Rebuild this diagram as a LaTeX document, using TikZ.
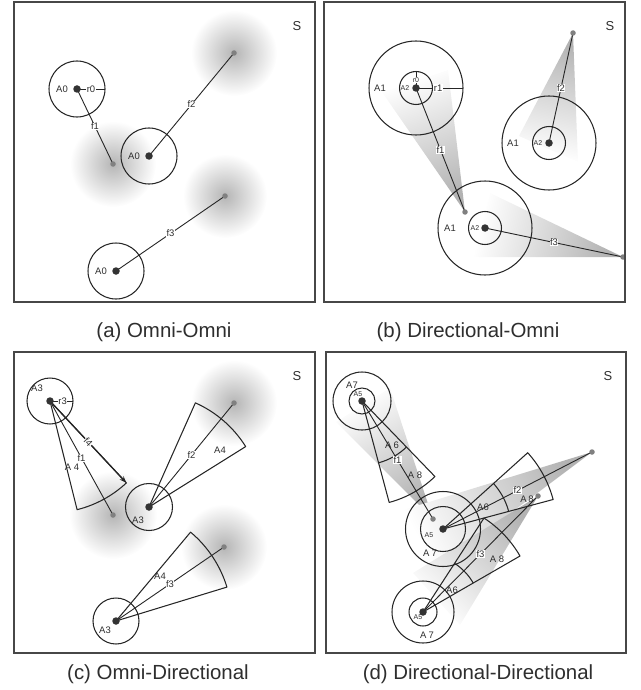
\documentclass[tikz,border=0pt]{standalone}
\usepackage{fontspec}
\setmainfont{Liberation Sans}
\usetikzlibrary{arrows.meta}
\definecolor{ink}{HTML}{262626}
\definecolor{txt}{HTML}{2E2E2E}
\begin{document}
\begin{tikzpicture}[x=1bp,y=-1bp,
  frame/.style={draw=black!72, line width=1.1bp},
  ring/.style={draw=ink, line width=1.05bp},
  link/.style={draw=ink, line width=0.9bp},
  sector/.style={draw=ink, line width=1.05bp, line join=round},
  lbl/.style={font=\fontsize{9.5}{10}\selectfont, inner sep=0.5bp, text=txt},
  wlbl/.style={lbl, fill=white},
  slbl/.style={font=\fontsize{7}{7}\selectfont, inner sep=0.3bp, text=txt},
  slabel/.style={font=\fontsize{13}{13}\selectfont, text=txt},
  captxt/.style={font=\fontsize{20.5}{22}\selectfont, text=txt},
  tx/.style={circle, fill=black!80, inner sep=0, minimum size=7.5bp},
  rx/.style={circle, fill=black!50, inner sep=0, minimum size=5.5bp},
  blob/.style={inner color=black!29, outer color=white},
  beam/.style={top color=black!30, bottom color=white}
]
\useasboundingbox (0,0) rectangle (641,690);

% ---------------- (a) Omni-Omni ----------------
\coordinate (aT1) at (77,89);
\coordinate (aT2) at (149,156);
\coordinate (aT3) at (116,271);
\coordinate (aR1) at (113,164);
\coordinate (aR2) at (234,53);
\coordinate (aR3) at (225,196);
\coordinate (aE) at (105,89);
\shade[blob] (aR1) circle[radius=43bp];
\shade[blob] (aR2) circle[radius=43bp];
\shade[blob] (aR3) circle[radius=42bp];
\draw[ring] (aT1) circle[radius=28bp];
\draw[ring] (aT2) circle[radius=28bp];
\draw[ring] (aT3) circle[radius=28bp];
\draw[link] (aT1) -- node[wlbl] (ar0) {r0} (aE);
\draw[link] (aT1) -- node[wlbl] (af1) {f1} (aR1);
\draw[link] (aT2) -- node[wlbl] (af2) {f2} (aR2);
\draw[link] (aT3) -- node[wlbl] (af3) {f3} (aR3);
\node[tx] (aT1d) at (aT1) {};
\node[tx] (aT2d) at (aT2) {};
\node[tx] (aT3d) at (aT3) {};
\node[rx] (aR1d) at (aR1) {};
\node[rx] (aR2d) at (aR2) {};
\node[rx] (aR3d) at (aR3) {};
\node[lbl] (aA1) at (62,89) {A0};
\node[lbl] (aA2) at (134,156) {A0};
\node[lbl] (aA3) at (101,271) {A0};
\node[slabel] (aS) at (297,26) {S};
\draw[frame] (14,2) rectangle (315,302);
\node[captxt] (acap) at (164,332) {(a) Omni-Omni};

% ---------------- (b) Directional-Omni ----------------
\coordinate (bT1) at (416,88);
\coordinate (bT2) at (549,143);
\coordinate (bT3) at (485,228);
\coordinate (bR1) at (465,212);
\coordinate (bR2) at (573,33);
\coordinate (bR3) at (623,257);
\coordinate (bE0) at (416,71.5);
\coordinate (bE1) at (463,88);
\shade[beam, shading angle=-159] (bR1) -- (382,92) -- (448,70) -- cycle;
\shade[beam, shading angle=-12] (bR2) -- (519,136) -- (578,162) -- cycle;
\shade[beam, shading angle=-103] (bR3) -- (490,193) -- (473,257) -- cycle;
\foreach \c in {bT1,bT2,bT3} {
  \draw[ring] (\c) circle[radius=47bp];
  \draw[ring] (\c) circle[radius=16.5bp];
}
\draw[link] (bT1) -- node[slbl, fill=white] (br0) {r0} (bE0);
\draw[link] (bT1) -- node[wlbl, pos=0.47] (br1) {r1} (bE1);
\draw[link] (bT1) -- node[wlbl] (bf1) {f1} (bR1);
\draw[link] (bT2) -- node[wlbl] (bf2) {f2} (bR2);
\draw[link] (bT3) -- node[wlbl] (bf3) {f3} (bR3);
\node[tx] (bT1d) at (bT1) {};
\node[tx] (bT2d) at (bT2) {};
\node[tx] (bT3d) at (bT3) {};
\node[rx] (bR1d) at (bR1) {};
\node[rx] (bR2d) at (bR2) {};
\node[rx] (bR3d) at (bR3) {};
\node[lbl] (bA11) at (380,88) {A1};
\node[slbl] (bA21) at (405,88) {A2};
\node[lbl] (bA12) at (513,143) {A1};
\node[slbl] (bA22) at (538,143) {A2};
\node[lbl] (bA13) at (450,228) {A1};
\node[slbl] (bA23) at (475,228) {A2};
\node[slabel] (bS) at (610,26) {S};
\draw[frame] (324,2) rectangle (625,302);
\node[captxt] (bcap) at (468,332) {(b) Directional-Omni};

% ---------------- (c) Omni-Directional ----------------
\coordinate (cT1) at (50,401);
\coordinate (cT2) at (149,507);
\coordinate (cT3) at (116,621);
\coordinate (cR1) at (113,515);
\coordinate (cR2) at (234,403);
\coordinate (cR3) at (224,547);
\coordinate (cE) at (73,401);
\coordinate (cF4) at (126.4,482.9);
\shade[blob] (cR1) circle[radius=44bp];
\shade[blob] (cR2) circle[radius=43bp];
\shade[blob] (cR3) circle[radius=43bp];
\draw[ring] (cT1) circle[radius=23bp];
\draw[ring] (cT2) circle[radius=23.5bp];
\draw[ring] (cT3) circle[radius=23bp];
\draw[sector] (cT1) -- ++(-76:112bp) arc[start angle=-76, end angle=-47, radius=112bp] -- cycle;
\draw[sector] (cT2) -- ++(66:114bp) arc[start angle=66, end angle=32, radius=114bp] -- cycle;
\draw[sector] (cT3) -- ++(50:116bp) arc[start angle=50, end angle=17, radius=116bp] -- cycle;
\draw[link] (cT1) -- node[wlbl, pos=0.55] (cr3) {r3} (cE);
\draw[link] (cT1) -- node[wlbl] (cf1) {f1} (cR1);
\draw[link] (cT2) -- node[wlbl] (cf2) {f2} (cR2);
\draw[link] (cT3) -- node[wlbl] (cf3) {f3} (cR3);
\draw[ink, line width=1.3bp, -{Stealth[length=7bp, width=5bp]}] (cT1) -- node[lbl, fill=white, sloped] (cf4) {f4} (cF4);
\node[tx] (cT1d) at (cT1) {};
\node[tx] (cT2d) at (cT2) {};
\node[tx] (cT3d) at (cT3) {};
\node[rx] (cR1d) at (cR1) {};
\node[rx] (cR2d) at (cR2) {};
\node[rx] (cR3d) at (cR3) {};
\node[lbl] (cA31) at (37,388) {A3};
\node[lbl] (cA32) at (138,520) {A3};
\node[lbl] (cA33) at (105,630) {A3};
\node[lbl] (cA41) at (72,467) {A\hspace{2.5bp}4};
\node[lbl] (cA42) at (220,450) {A4};
\node[lbl] (cA43) at (160,576) {A4};
\node[slabel] (cS) at (297,376) {S};
\draw[frame] (14,352) rectangle (315,653);
\node[captxt] (ccap) at (158,674) {(c) Omni-Directional};

% ---------------- (d) Directional-Directional ----------------
\coordinate (dT1) at (362,401);
\coordinate (dT2) at (443,529);
\coordinate (dT3) at (423,612);
\coordinate (dR1) at (433,519);
\coordinate (dR2) at (592,452);
\coordinate (dR3) at (538,496);
\shade[beam, shading angle=-148] (dR1) -- (336,422) -- (390,388) -- cycle;
\shade[beam, shading angle=-63] (dR2) -- (403,510) -- (432,572) -- cycle;
\shade[beam, shading angle=-45] (dR3) -- (413,573) -- (460,625) -- cycle;
\draw[ring] (dT1) circle[radius=29bp];
\draw[ring] (dT1) circle[radius=13bp];
\draw[ring] (dT2) circle[radius=37.5bp];
\draw[ring] (dT2) circle[radius=22.5bp];
\draw[ring] (dT3) circle[radius=31bp];
\draw[ring] (dT3) circle[radius=14bp];
\draw[sector] (dT1) -- ++(-75:105bp) arc[start angle=-75, end angle=-46, radius=105bp] -- cycle;
\draw[sector] (dT1) ++(-75:64bp) arc[start angle=-75, end angle=-46, radius=64bp];
\draw[sector] (dT2) -- ++(42:114bp) arc[start angle=42, end angle=15, radius=114bp] -- cycle;
\draw[sector] (dT2) ++(42:68bp) arc[start angle=42, end angle=15, radius=68bp];
\draw[sector] (dT3) -- ++(57:112bp) arc[start angle=57, end angle=30, radius=112bp] -- cycle;
\draw[sector] (dT3) ++(57:58bp) arc[start angle=57, end angle=30, radius=58bp];
\draw[link] (dT1) -- node[wlbl] (df1) {f1} (dR1);
\draw[link] (dT2) -- node[wlbl] (df2) {f2} (dR2);
\draw[link] (dT3) -- node[wlbl] (df3) {f3} (dR3);
\node[tx] (dT1d) at (dT1) {};
\node[tx] (dT2d) at (dT2) {};
\node[tx] (dT3d) at (dT3) {};
\node[rx] (dR1d) at (dR1) {};
\node[rx] (dR2d) at (dR2) {};
\node[rx] (dR3d) at (dR3) {};
\node[lbl] (dA71) at (352,385) {A7};
\node[slbl] (dA51) at (358,394) {A5};
\node[lbl] (dA61) at (392,445) {A\hspace{2bp}6};
\node[lbl] (dA81) at (415,475) {A\hspace{2.5bp}8};
\node[lbl] (dA62) at (483,507) {A6};
\node[lbl] (dA82) at (527,499) {A\hspace{1.5bp}8};
\node[slbl] (dA52) at (429,535) {A5};
\node[lbl] (dA72) at (430,553) {A\hspace{2bp}7};
\node[lbl] (dA63) at (452,590) {A6};
\node[lbl] (dA83) at (497,559) {A\hspace{2.5bp}8};
\node[slbl] (dA53) at (418,617) {A5};
\node[lbl] (dA73) at (427,635) {A\hspace{2bp}7};
\node[slabel] (dS) at (608,376) {S};
\draw[frame] (326,352) rectangle (626,653);
\node[captxt] (dcap) at (478,674) {(d) Directional-Directional};
\end{tikzpicture}
\end{document}
